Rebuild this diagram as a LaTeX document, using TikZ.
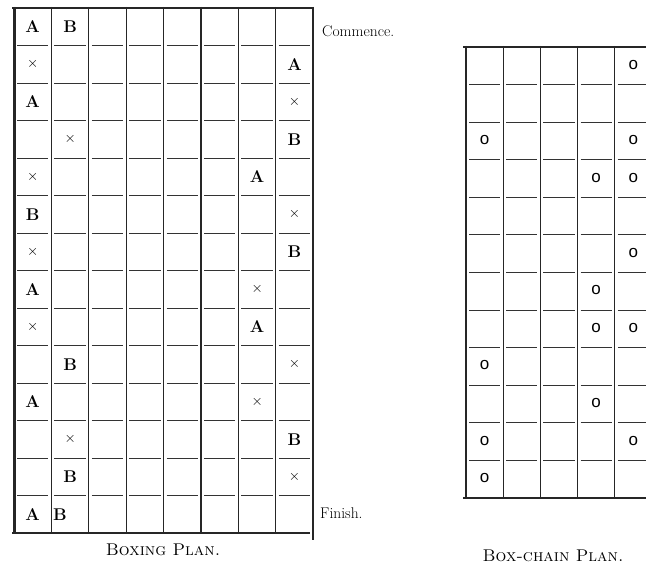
\documentclass[tikz,border=0pt]{standalone}
\usepackage{fontspec}
\newfontfamily\ofont{Liberation Sans}
\begin{document}
\begin{tikzpicture}[x=1pt,y=-1pt,
  gline/.style={line width=1.1pt, black!85},
  heavy/.style={line width=2.4pt, black!85},
  hsep/.style={line width=0.9pt, black!80},
  lettr/.style={font=\fontsize{17}{17}\selectfont\bfseries, inner sep=0pt},
  crossmk/.style={font=\fontsize{14}{14}\selectfont, inner sep=0pt},
  ringmk/.style={font=\ofont\fontsize{17}{17}\selectfont, inner sep=0pt},
  side/.style={font=\fontsize{15.5}{15.5}\selectfont, anchor=west, inner sep=0pt},
  caption/.style={font=\fontsize{17}{17}\selectfont\scshape\addfontfeature{LetterSpace=8}, inner sep=0pt}]
\useasboundingbox (0,0) rectangle (646,567);
\fill[white] (0,0) rectangle (646,567);
% ---------- Boxing plan ----------
\def\lx{14}\def\lw{37.4}\def\ly{8}\def\lh{37.5}
\draw[gline] (12,8) -- (314,8);
\draw[gline] (12,533) -- (310,533);
\foreach \i in {0,...,7}{
  \draw[gline] ({\lx+\lw*\i},7) -- ({\lx+\lw*\i},534);
}
\draw[gline] (15.6,7) -- (15.6,534);
\draw[heavy] ({\lx+\lw*8},7) -- ({\lx+\lw*8},540);
\foreach \r in {1,...,13}{
  \foreach \c in {0,...,7}{
    \draw[hsep] ({\lx+\lw*\c+3},{\ly+\lh*\r}) -- ({\lx+\lw*(\c+1)-3},{\ly+\lh*\r});
  }
}
% letters: row/col/text
\foreach \r/\c/\t [count=\k] in {
  1/1/A, 1/2/B, 2/8/A, 3/1/A, 4/8/B, 5/7/A, 6/1/B, 7/8/B, 8/1/A,
  9/7/A, 10/2/B, 11/1/A, 12/8/B, 13/2/B, 14/1/A}{
  \node[lettr] (b\k) at ({\lx+\lw*(\c-0.5)},{\ly+\lh*(\r-0.5)}) {\t};
}
% crosses: row/col
\foreach \r/\c [count=\k] in {
  2/1, 3/8, 4/2, 5/1, 6/8, 7/1, 8/7, 9/1, 10/8, 11/7, 12/2, 13/8}{
  \node[crossmk] (x\k) at ({\lx+\lw*(\c-0.5)},{\ly+\lh*(\r-0.5)}) {$\times$};
}
\node[lettr, anchor=west] (blastB) at (53,{\ly+\lh*13.5}) {B};
\node[side] (commence) at (322,31) {Commence.};
\node[side] (finish) at (320,513) {Finish.};
\node[caption] (boxcap) at (163,550) {Boxing Plan.};
% ---------- Box-chain plan ----------
\def\rx{466}\def\rw{37.2}\def\ry{47}\def\rh{37.58}
\begin{scope}
\clip (440,0) rectangle (646,567);
\draw[gline] (463,47) -- (660,47);
\draw[gline] (463,498) -- (660,498);
\foreach \i in {0,...,5}{
  \draw[gline] ({\rx+\rw*\i},46) -- ({\rx+\rw*\i},498);
}
\foreach \r in {1,...,11}{
  \foreach \c in {0,...,4}{
    \draw[hsep] ({\rx+\rw*\c+3},{\ry+\rh*\r}) -- ({\rx+\rw*(\c+1)-3},{\ry+\rh*\r});
  }
}
\foreach \r/\c [count=\k] in {1/5, 3/1, 3/5, 4/4, 4/5, 6/5, 7/4, 8/4, 8/5, 9/1, 10/4, 11/1, 11/5, 12/1}{
  \node[ringmk] (o\k) at ({\rx+\rw*(\c-0.5)},{\ry+\rh*(\r-0.5)-1}) {o};
}
\end{scope}
\node[caption] (chaincap) at (553,556) {Box-chain Plan.};
\end{tikzpicture}
\end{document}
